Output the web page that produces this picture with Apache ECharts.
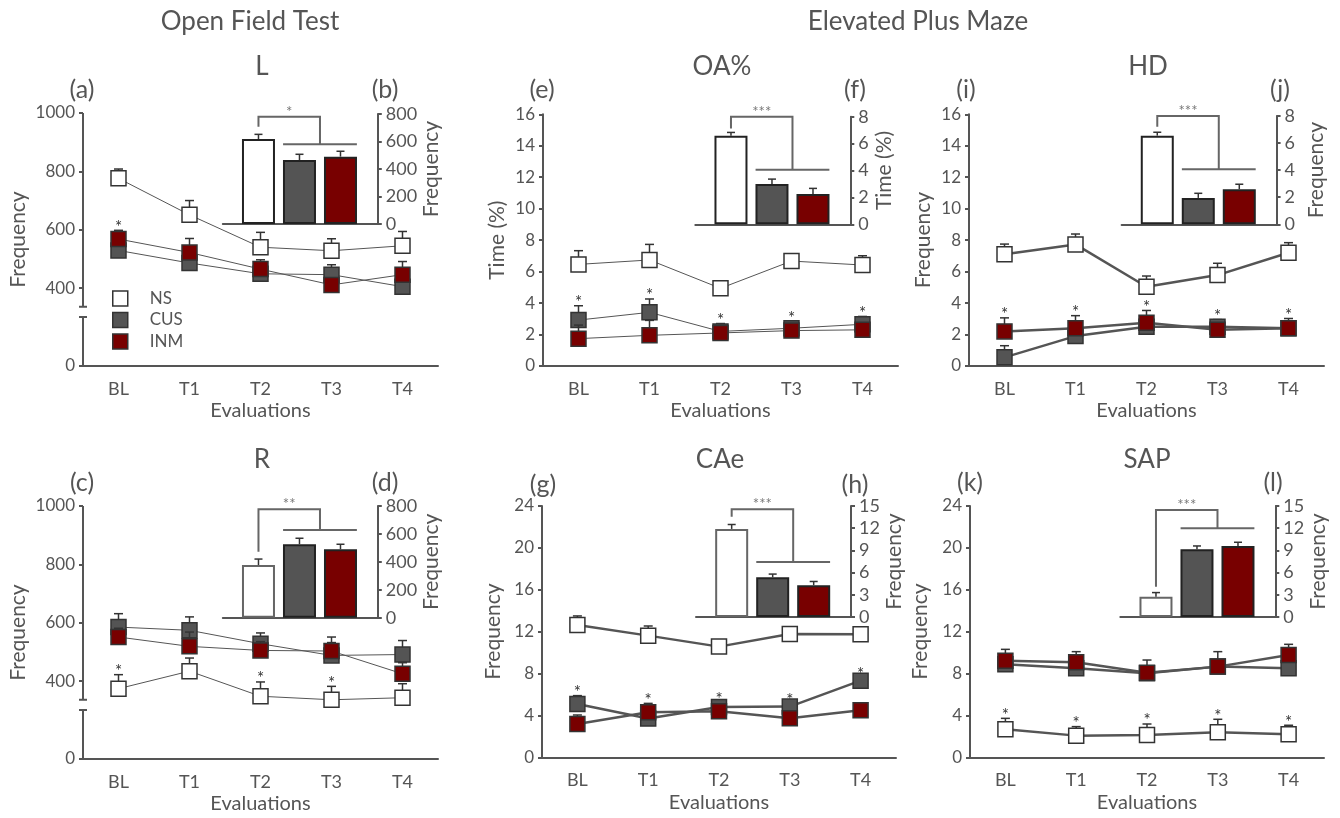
<!DOCTYPE html>
<html>
<head>
<meta charset="utf-8">
<script src="https://cdn.jsdelivr.net/npm/echarts@6/dist/echarts.min.js"></script>
<style>
  html, body { margin: 0; background: #fff; }
  #chart { width: 1340px; height: 818px; }
</style>
</head>
<body>
<div id="chart"></div>
<script>
var groups = ['NS', 'CUS', 'INM'];
var evaluations = ['BL', 'T1', 'T2', 'T3', 'T4'];

// (a)/(b) L
var L_NS = [776, 651, 540, 528, 545];
var L_NS_sem = [32, 49, 51, 41, 49];
var L_CUS = [529, 486, 449, 446, 405];
var L_CUS_sem = [20, 20, 20, 34, 20];
var L_INM = [568, 522, 465, 411, 446];
var L_INM_sem = [30, 48, 32, 20, 45];
var L_stars = [2, -1, -1, -1, -1];
var L_total = [618, 465, 490];
var L_total_sem = [34, 42, 39];
var L_bracket = [707, 780, 580];

// (c)/(d) R
var R_NS = [374, 434, 348, 336, 343];
var R_NS_sem = [48, 45, 49, 46, 48];
var R_CUS = [585, 574, 528, 488, 491];
var R_CUS_sem = [46, 46, 37, 44, 48];
var R_INM = [551, 519, 505, 503, 425];
var R_INM_sem = [30, 49, 30, 48, 38];
var R_stars = [0, -1, 0, 0, -1];
var R_total = [377, 526, 490];
var R_total_sem = [43, 43, 36];
var R_bracket = [473, 776, 628];

// (e)/(f) OA%
var OA_NS = [6.46, 6.74, 4.94, 6.67, 6.42];
var OA_NS_sem = [0.87, 0.99, 0.3, 0.3, 0.59];
var OA_CUS = [2.92, 3.41, 2.2, 2.4, 2.65];
var OA_CUS_sem = [0.91, 0.85, 0.5, 0.45, 0.5];
var OA_INM = [1.74, 1.95, 2.1, 2.25, 2.3];
var OA_INM_sem = [0.86, 0.95, 0.3, 0.3, 0.3];
var OA_stars = [1, 1, 1, 1, 1];
var OA_total = [6.58, 2.99, 2.25];
var OA_total_sem = [0.25, 0.37, 0.42];
var OA_bracket = [7.13, 8.0, 4.06];

// (i)/(j) HD
var HD_NS = [7.1, 7.73, 5.04, 5.78, 7.2];
var HD_NS_sem = [0.65, 0.66, 0.68, 0.75, 0.64];
var HD_CUS = [0.55, 1.9, 2.5, 2.5, 2.4];
var HD_CUS_sem = [0.74, 0.4, 0.4, 0.45, 0.3];
var HD_INM = [2.2, 2.4, 2.75, 2.3, 2.4];
var HD_INM_sem = [0.86, 0.8, 0.78, 0.3, 0.62];
var HD_stars = [2, 2, 2, 1, 2];
var HD_total = [6.55, 1.95, 2.59];
var HD_total_sem = [0.25, 0.34, 0.37];
var HD_bracket = [7.2, 8.0, 4.06];

// (g)/(h) CAe
var CAe_NS = [12.64, 11.62, 10.57, 11.78, 11.74];
var CAe_NS_sem = [0.86, 0.92, 0.2, 0.2, 0.2];
var CAe_CUS = [5.09, 3.7, 4.8, 4.84, 7.32];
var CAe_CUS_sem = [0.8, 0.3, 0.45, 0.25, 0.3];
var CAe_INM = [3.18, 4.3, 4.4, 3.72, 4.5];
var CAe_INM_sem = [0.86, 0.85, 0.4, 0.3, 0.3];
var CAe_stars = [1, 2, 1, 1, 1];
var CAe_total = [11.9, 5.36, 4.3];
var CAe_total_sem = [0.6, 0.44, 0.5];
var CAe_bracket = [13.55, 14.55, 7.43];

// (k)/(l) SAP
var SAP_NS = [2.67, 2.07, 2.13, 2.39, 2.2];
var SAP_NS_sem = [1.05, 0.86, 1.05, 1.24, 0.86];
var SAP_CUS = [8.88, 8.5, 8.02, 8.66, 8.5];
var SAP_CUS_sem = [0.4, 0.4, 0.4, 0.4, 0.4];
var SAP_INM = [9.23, 9.07, 8.08, 8.66, 9.77];
var SAP_INM_sem = [1.08, 1.02, 1.21, 1.43, 1.02];
var SAP_stars = [0, 0, 0, 0, 0];
var SAP_total = [2.75, 9.15, 9.6];
var SAP_total_sem = [0.55, 0.45, 0.5];
var SAP_bracket = [4.1, 14.46, 12.0];

var FONT = 'Lato';
var TXT = '#555';
var AX = '#555';
var fills = ['#ffffff', '#545454', '#780000'];

var panels = [
  { title: 'L', tag: '(a)', tag2: '(b)', grid: [83, 113, 355, 253], yMin: 133, yMax: 1000,
    ticks: [133, 400, 600, 800, 1000], brk: [301, 336], yName: 'Frequency', yGap: 54, thick: false,
    means: [L_NS, L_CUS, L_INM], sems: [L_NS_sem, L_CUS_sem, L_INM_sem], stars: L_stars,
    inset: { box: [222.8, 114, 155, 110], max: 800, interval: 200, name: 'Frequency', gap: 39,
      vals: L_total, sem: L_total_sem, bracket: L_bracket, sig: '*', nsBorder: '#222' } },
  { title: 'R', tag: '(c)', tag2: '(d)', grid: [83, 506, 355, 253], yMin: 133, yMax: 1000,
    ticks: [133, 400, 600, 800, 1000], brk: [301, 336], yName: 'Frequency', yGap: 54, thick: false,
    means: [R_NS, R_CUS, R_INM], sems: [R_NS_sem, R_CUS_sem, R_INM_sem], stars: R_stars,
    inset: { box: [222.8, 506, 155, 111.7], max: 800, interval: 200, name: 'Frequency', gap: 39,
      vals: R_total, sem: R_total_sem, bracket: R_bracket, sig: '**', nsBorder: '#666' } },
  { title: 'OA%', tag: '(e)', tag2: '(f)', grid: [543, 114.3, 355, 251.7], yMin: 0, yMax: 16, interval: 2,
    yName: 'Time (%)', yGap: 35, thick: false,
    means: [OA_NS, OA_CUS, OA_INM], sems: [OA_NS_sem, OA_CUS_sem, OA_INM_sem], stars: OA_stars,
    inset: { box: [695.3, 116.7, 155, 107.6], max: 8, interval: 2, name: 'Time (%)', gap: 23,
      vals: OA_total, sem: OA_total_sem, bracket: OA_bracket, sig: '***', nsBorder: '#222' } },
  { title: 'CAe', tag: '(g)', tag2: '(h)', grid: [542, 506, 354, 251.3], yMin: 0, yMax: 24, interval: 4,
    yName: 'Frequency', yGap: 38, thick: true,
    means: [CAe_NS, CAe_CUS, CAe_INM], sems: [CAe_NS_sem, CAe_CUS_sem, CAe_INM_sem], stars: CAe_stars,
    inset: { box: [696, 506, 155, 111], max: 15, interval: 3, name: 'Frequency', gap: 24,
      vals: CAe_total, sem: CAe_total_sem, bracket: CAe_bracket, sig: '***', nsBorder: '#666' } },
  { title: 'HD', tag: '(i)', tag2: '(j)', grid: [969, 114.3, 355, 251.7], yMin: 0, yMax: 16, interval: 2,
    yName: 'Frequency', yGap: 35, thick: true,
    means: [HD_NS, HD_CUS, HD_INM], sems: [HD_NS_sem, HD_CUS_sem, HD_INM_sem], stars: HD_stars,
    inset: { box: [1121.6, 116, 155, 108.3], max: 8, interval: 2, name: 'Frequency', gap: 29,
      vals: HD_total, sem: HD_total_sem, bracket: HD_bracket, sig: '***', nsBorder: '#222' } },
  { title: 'SAP', tag: '(k)', tag2: '(l)', grid: [970, 506, 354, 251.3], yMin: 0, yMax: 24, interval: 4,
    yName: 'Frequency', yGap: 39, thick: true,
    means: [SAP_NS, SAP_CUS, SAP_INM], sems: [SAP_NS_sem, SAP_CUS_sem, SAP_INM_sem], stars: SAP_stars,
    inset: { box: [1120.3, 506, 155, 111], max: 15, interval: 3, name: 'Frequency', gap: 30,
      vals: SAP_total, sem: SAP_total_sem, bracket: SAP_bracket, sig: '***', nsBorder: '#666' } }
];

function txt(text, x, y, size, color) {
  return { type: 'text', x: x, y: y, silent: true,
    style: { text: text, x: 0, y: 0, fill: color || TXT, font: size + 'px ' + FONT,
      textAlign: 'center', textVerticalAlign: 'middle', align: 'center', verticalAlign: 'middle' } };
}

// error bar (upper half only) + optional significance star
function errRender(cap) {
  return function (params, api) {
    var x = api.value(0), m = api.value(1), s = api.value(2), star = api.value(3);
    var p0 = api.coord([x, m]), p1 = api.coord([x, m + s]);
    var st = { stroke: '#333', lineWidth: 1.5 };
    var kids = [
      { type: 'line', shape: { x1: p0[0], y1: p0[1], x2: p1[0], y2: p1[1] }, style: st },
      { type: 'line', shape: { x1: p1[0] - cap / 2, y1: p1[1], x2: p1[0] + cap / 2, y2: p1[1] }, style: st }
    ];
    if (star) {
      kids.push({ type: 'text', style: { text: '*', x: p1[0], y: p1[1] - 3, fill: '#333', font: '17px ' + FONT,
        textAlign: 'center', textVerticalAlign: 'middle', align: 'center', verticalAlign: 'middle' } });
    }
    return { type: 'group', children: kids };
  };
}

function bracketRender(sig) {
  return function (params, api) {
    var start = api.value(0), top = api.value(1), level = api.value(2);
    var a = api.coord([0, start]), b = api.coord([0, top]), c = api.coord([1.5, top]), d = api.coord([1.5, level]);
    var e = api.coord([0.6, level]), f = api.coord([2.4, level]), t = api.coord([0.75, top]);
    var st = { stroke: '#666', lineWidth: 2, fill: null };
    return { type: 'group', children: [
      { type: 'polyline', shape: { points: [a, b, c, d] }, style: st },
      { type: 'line', shape: { x1: e[0], y1: e[1], x2: f[0], y2: f[1] }, style: st },
      { type: 'text', style: { text: sig, x: t[0], y: t[1] - 5, fill: '#777', font: '15px ' + FONT,
        textAlign: 'center', textVerticalAlign: 'middle', align: 'center', verticalAlign: 'middle' } }
    ] };
  };
}

// broken y axis line
function breakRender(brk) {
  return function (params, api) {
    var cs = params.coordSys;
    var x = cs.x, y1 = api.coord([0, brk[1]])[1], y0 = api.coord([0, brk[0]])[1];
    var st = { stroke: AX, lineWidth: 2 };
    return { type: 'group', children: [
      { type: 'line', shape: { x1: x, y1: cs.y, x2: x, y2: y1 }, style: st },
      { type: 'line', shape: { x1: x, y1: y0, x2: x, y2: cs.y + cs.height }, style: st },
      { type: 'line', shape: { x1: x - 4, y1: y1, x2: x + 4, y2: y1 }, style: st },
      { type: 'line', shape: { x1: x - 4, y1: y0, x2: x + 4, y2: y0 }, style: st }
    ] };
  };
}

var grids = [], xAxes = [], yAxes = [], series = [], graphics = [];
var axisLineStyle = { color: AX, width: 2 };

panels.forEach(function (p, k) {
  var gi = 2 * k, bi = 2 * k + 1;
  grids.push({ left: p.grid[0], top: p.grid[1], width: p.grid[2], height: p.grid[3] });
  grids.push({ left: p.inset.box[0], top: p.inset.box[1], width: p.inset.box[2], height: p.inset.box[3] });

  xAxes.push({ gridIndex: gi, type: 'category', data: evaluations, boundaryGap: true,
    axisLine: { onZero: false, lineStyle: axisLineStyle },
    axisTick: { alignWithLabel: true, length: 5, lineStyle: axisLineStyle },
    axisLabel: { color: TXT, fontSize: 18, margin: 14, fontFamily: FONT },
    name: 'Evaluations', nameLocation: 'middle', nameGap: 35,
    nameTextStyle: { color: TXT, fontSize: 20, fontFamily: FONT } });
  xAxes.push({ gridIndex: bi, type: 'value', min: -0.87, max: 2.91,
    axisLine: { onZero: false, lineStyle: axisLineStyle },
    axisTick: { show: false }, axisLabel: { show: false }, splitLine: { show: false } });

  var ya = { gridIndex: gi, type: 'value', min: p.yMin, max: p.yMax,
    axisLine: { show: !p.brk, onZero: false, lineStyle: axisLineStyle },
    axisTick: { show: true, length: 4, lineStyle: axisLineStyle },
    axisLabel: { color: TXT, fontSize: 17, margin: 8, fontFamily: FONT },
    splitLine: { show: false },
    name: p.yName, nameLocation: 'middle', nameRotate: 90, nameGap: p.yGap,
    nameTextStyle: { color: TXT, fontSize: 21, fontFamily: FONT } };
  if (p.brk) {
    ya.axisLabel.customValues = p.ticks;
    ya.axisTick.customValues = p.ticks;
    ya.axisLabel.formatter = function (v) { return v < 200 ? '0' : String(v); };
  } else {
    ya.interval = p.interval;
  }
  yAxes.push(ya);
  yAxes.push({ gridIndex: bi, type: 'value', position: 'right', min: 0, max: p.inset.max, interval: p.inset.interval,
    axisLine: { show: true, onZero: false, lineStyle: axisLineStyle },
    axisTick: { show: true, length: 4, lineStyle: axisLineStyle },
    axisLabel: { color: TXT, fontSize: 18, margin: 8, fontFamily: FONT },
    splitLine: { show: false },
    name: p.inset.name, nameLocation: 'middle', nameRotate: 90, nameGap: p.inset.gap,
    nameTextStyle: { color: TXT, fontSize: 21, fontFamily: FONT } });

  if (p.brk) {
    series.push({ type: 'custom', xAxisIndex: gi, yAxisIndex: gi, silent: true, z: 1,
      data: [[0]], renderItem: breakRender(p.brk) });
  }

  groups.forEach(function (g, j) {
    var rows = p.means[j].map(function (m, i) {
      return [i, m, p.sems[j][i], p.stars[i] === j ? 1 : 0];
    });
    series.push({ type: 'custom', xAxisIndex: gi, yAxisIndex: gi, silent: true, z: 2 + 2 * j,
      data: rows, renderItem: errRender(9) });
    series.push({ type: 'line', name: g, xAxisIndex: gi, yAxisIndex: gi, z: 3 + 2 * j, silent: true,
      data: p.means[j], symbol: 'rect', symbolSize: 15,
      itemStyle: { color: fills[j], borderColor: '#333', borderWidth: 1.5 },
      lineStyle: { color: '#555', width: p.thick ? 2.5 : 1 } });
  });

  var barData = p.inset.vals.map(function (v, i) {
    return { value: [i, v], itemStyle: { color: fills[i], borderColor: i === 0 ? p.inset.nsBorder : '#222' } };
  });
  series.push({ type: 'bar', name: 'total ' + p.title, xAxisIndex: bi, yAxisIndex: bi, silent: true,
    barWidth: 33, data: barData, itemStyle: { borderWidth: 2 } });
  series.push({ type: 'custom', xAxisIndex: bi, yAxisIndex: bi, silent: true, z: 3,
    data: p.inset.vals.map(function (v, i) { return [i, v, p.inset.sem[i], 0]; }),
    renderItem: errRender(8) });
  series.push({ type: 'custom', xAxisIndex: bi, yAxisIndex: bi, silent: true, z: 3,
    data: [p.inset.bracket], renderItem: bracketRender(p.inset.sig) });
});

graphics.push(txt('Open Field Test', 250, 22, 26));
graphics.push(txt('Elevated Plus Maze', 918, 22, 26));
var titlePos = [[262, 67], [262, 460], [722, 67], [720, 460], [1148, 67], [1147, 460]];
var tagPos = [[82, 90, 385, 90], [82, 483, 385, 483], [542, 90, 855, 90], [543, 485, 855, 485],
  [966, 90, 1280, 90], [970, 483, 1273, 483]];
panels.forEach(function (p, k) {
  graphics.push(txt(p.title, titlePos[k][0], titlePos[k][1], 26));
  graphics.push(txt(p.tag, tagPos[k][0], tagPos[k][1], 25));
  graphics.push(txt(p.tag2, tagPos[k][2], tagPos[k][3], 25));
});

var chart = echarts.init(document.getElementById('chart'));
chart.setOption({
  animation: false,
  textStyle: { fontFamily: FONT },
  legend: { data: groups, orient: 'vertical', left: 112, top: 290, icon: 'rect', padding: 0,
    itemWidth: 15, itemHeight: 15, itemGap: 4.5, selectedMode: false,
    itemStyle: { borderColor: '#333', borderWidth: 1.5 },
    textStyle: { color: TXT, fontSize: 17, lineHeight: 17, padding: [0, 0, 0, 17] } },
  grid: grids,
  xAxis: xAxes,
  yAxis: yAxes,
  series: series,
  graphic: graphics
});
</script>
</body>
</html>
